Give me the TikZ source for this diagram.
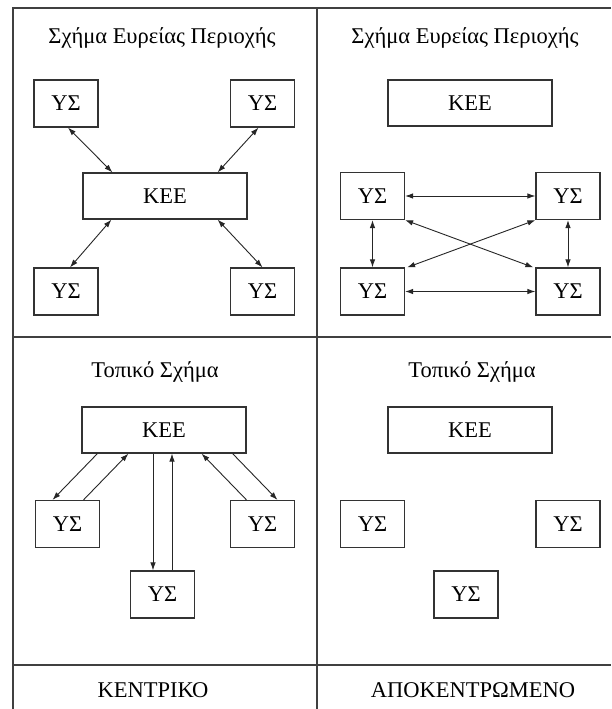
\documentclass[tikz,border=0pt]{standalone}
\usepackage{fontspec}
\setmainfont{Liberation Serif}
\usetikzlibrary{arrows.meta}
\begin{document}
\begin{tikzpicture}[x=1pt,y=-1pt,
  every node/.style={font=\fontsize{22.5}{27}\selectfont},
  frame/.style={draw=black!75,line width=1.6pt},
  ys/.style={draw=black!80,line width=1.2pt,minimum width=64pt,minimum height=47pt,inner sep=0pt},
  kee/.style={draw=black!80,line width=1.2pt,minimum width=164pt,minimum height=46pt,inner sep=0pt},
  title/.style={inner sep=0pt},
  link/.style={draw=black!85,line width=0.9pt},
  both/.style={link,{Latex[length=8pt,width=5.5pt]}-{Latex[length=8pt,width=5.5pt]}},
  one/.style={link,-{Latex[length=8pt,width=5.5pt]}}]
\useasboundingbox (0,0) rectangle (611,709);
\fill[white] (0,0) rectangle (611,709);

% grid of the table
\draw[frame] (13,709) -- (13,8) -- (611,8);
\draw[frame] (317,8) -- (317,709);
\draw[frame] (13,337) -- (611,337);
\draw[frame] (13,665) -- (611,665);

% upper left: wide area, central
\node[title] (t1) at (162,38) {Σχήμα Ευρείας Περιοχής};
\node[ys] (a1) at (66,103.5) {ΥΣ};
\node[ys] (a2) at (262.5,103.5) {ΥΣ};
\node[kee] (ak) at (165,196) {ΚΕΕ};
\node[ys] (a3) at (66,291.5) {ΥΣ};
\node[ys] (a4) at (262.5,291.5) {ΥΣ};
\draw[both] ([xshift=2pt]a1.south) -- ([xshift=30pt]ak.north west);
\draw[both] ([xshift=-4pt]a2.south) -- ([xshift=-30pt]ak.north east);
\draw[both] ([xshift=29pt]ak.south west) -- ([xshift=4pt]a3.north);
\draw[both] ([xshift=-30pt]ak.south east) -- (a4.north);

% upper right: wide area, decentralised
\node[title] (t2) at (465,38) {Σχήμα Ευρείας Περιοχής};
\node[kee] (bk) at (470,103) {ΚΕΕ};
\node[ys] (b1) at (372.5,196) {ΥΣ};
\node[ys] (b2) at (568,196) {ΥΣ};
\node[ys] (b3) at (372.5,291.5) {ΥΣ};
\node[ys] (b4) at (568,291.5) {ΥΣ};
\draw[both] (b1.east) -- (b2.west);
\draw[both] (b3.east) -- (b4.west);
\draw[both] (b1.south) -- (b3.north);
\draw[both] (b2.south) -- (b4.north);
\draw[both] (b1.south east) -- ([xshift=-2pt]b4.north west);
\draw[both] (b2.south west) -- ([xshift=2pt]b3.north east);

% lower left: local, central
\node[title] (t3) at (155,372) {Τοπικό Σχήμα};
\node[kee] (ck) at (164,430) {ΚΕΕ};
\node[ys] (c1) at (67.5,524) {ΥΣ};
\node[ys] (c2) at (262.5,524) {ΥΣ};
\node[ys] (c3) at (162.5,594.5) {ΥΣ};
\draw[one] ([xshift=16pt]ck.south west) -- ([xshift=-15pt]c1.north);
\draw[one] ([xshift=16pt]c1.north) -- ([xshift=47pt]ck.south west);
\coordinate (cd) at ([xshift=-11pt]ck.south);
\coordinate (cu) at ([xshift=8pt]ck.south);
\draw[one] (cd) -- (cd |- c3.north);
\draw[one] (cu |- c3.north) -- (cu);
\draw[one] ([xshift=-16pt]c2.north) -- ([xshift=-45pt]ck.south east);
\draw[one] ([xshift=-14pt]ck.south east) -- ([xshift=15pt]c2.north);

% lower right: local, decentralised
\node[title] (t4) at (472,372) {Τοπικό Σχήμα};
\node[kee] (dk) at (470,430) {ΚΕΕ};
\node[ys] (d1) at (372.5,524) {ΥΣ};
\node[ys] (d2) at (568,524) {ΥΣ};
\node[ys] (d3) at (466,594.5) {ΥΣ};

% column captions
\node[title] (k1) at (153,690) {ΚΕΝΤΡΙΚΟ};
\node[title] (k2) at (473,690) {ΑΠΟΚΕΝΤΡΩΜΕΝΟ};
\end{tikzpicture}
\end{document}
